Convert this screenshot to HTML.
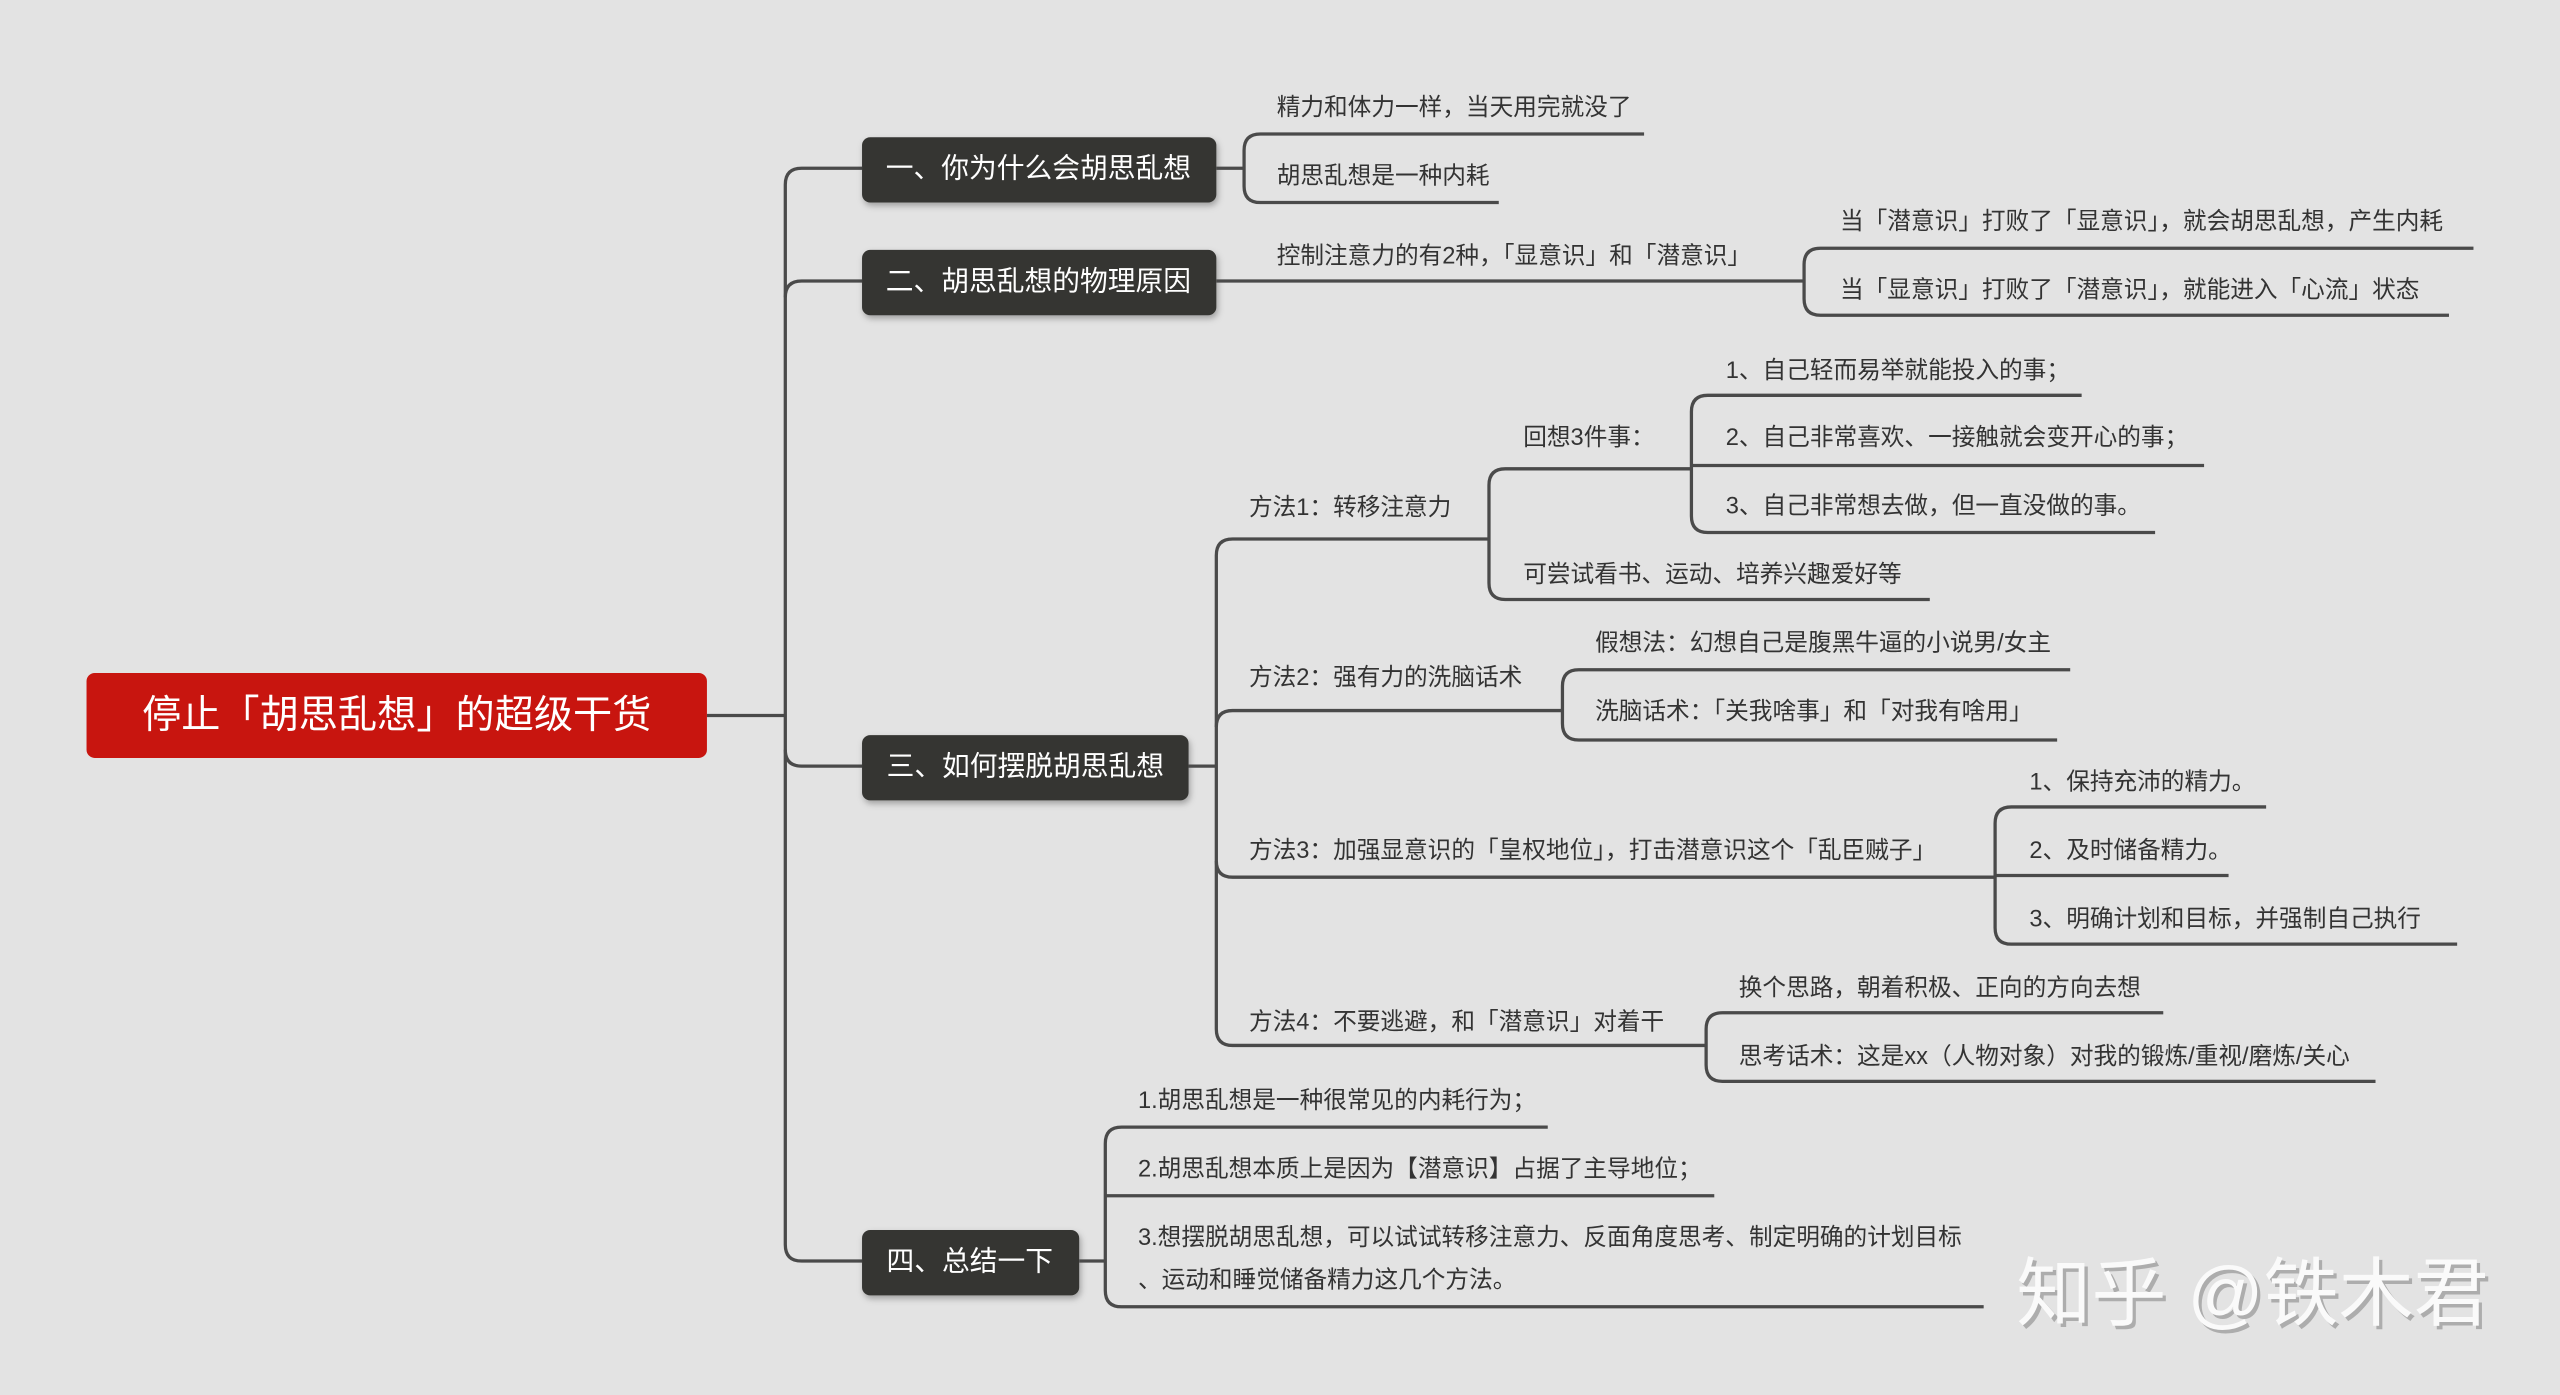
<!DOCTYPE html>
<html><head><meta charset="utf-8">
<style>
html,body{margin:0;padding:0;background:#e3e3e3;}
svg{display:block;}
text{font-family:"Liberation Sans","Noto Sans CJK SC",sans-serif;dominant-baseline:central;}
.t{font-size:14.5px;fill:#333;}
.m{font-size:17px;fill:#fff;font-weight:normal;}
.l{stroke:#4a4a4a;stroke-width:2;fill:none;stroke-linejoin:round;}
</style></head><body>
<svg width="2560" height="1395" viewBox="0 0 1568 854" preserveAspectRatio="none" xmlns="http://www.w3.org/2000/svg">
<rect width="1568" height="854" fill="#e3e3e3"/>
<defs><filter id="sh" x="-10%" y="-20%" width="120%" height="150%"><feDropShadow dx="1" dy="2" stdDeviation="2" flood-color="#000" flood-opacity="0.3"/></filter></defs>

<path class="l" d="M433 438 H481"/>
<path class="l" d="M528 103 H491 Q481 103 481 113 V762 Q481 772 491 772 H528"/>
<path class="l" d="M481 182 Q481 172 491 172 H528"/>
<path class="l" d="M481 459 Q481 469 491 469 H528"/>

<rect x="53" y="412" width="380" height="52" rx="5" fill="#c8150f"/>
<text x="243" y="438" text-anchor="middle" style="font-size:24px;fill:#fff">停止「胡思乱想」的超级干货</text>

<rect x="528" y="84" width="217" height="40" rx="5" fill="#353531" filter="url(#sh)"/>
<text class="m" x="636" y="103" text-anchor="middle">一、你为什么会胡思乱想</text>
<rect x="528" y="153" width="217" height="40" rx="5" fill="#353531" filter="url(#sh)"/>
<text class="m" x="636" y="172" text-anchor="middle">二、胡思乱想的物理原因</text>
<rect x="528" y="450" width="200" height="40" rx="5" fill="#353531" filter="url(#sh)"/>
<text class="m" x="628" y="469" text-anchor="middle">三、如何摆脱胡思乱想</text>
<rect x="528" y="753" width="133" height="40" rx="5" fill="#353531" filter="url(#sh)"/>
<text class="m" x="594" y="772" text-anchor="middle">四、总结一下</text>

<path class="l" d="M745 103 H762"/>
<path class="l" d="M1007 82 H772 Q762 82 762 92 V114 Q762 124 772 124 H918"/>
<text class="t" x="782" y="66">精力和体力一样，当天用完就没了</text>
<text class="t" x="782" y="108">胡思乱想是一种内耗</text>

<path class="l" d="M745 172 H1105"/>
<text class="t" x="782" y="157">控制注意力的有2种，「显意识」和「潜意识」</text>
<path class="l" d="M1515 152 H1115 Q1105 152 1105 162 V183 Q1105 193 1115 193 H1500"/>
<text class="t" x="1127" y="136">当「潜意识」打败了「显意识」，就会胡思乱想，产生内耗</text>
<text class="t" x="1127" y="178">当「显意识」打败了「潜意识」，就能进入「心流」状态</text>

<path class="l" d="M728 469 H745"/>
<path class="l" d="M912 330 H755 Q745 330 745 340 V630 Q745 640 755 640 H1045"/>
<path class="l" d="M745 445 Q745 435 755 435 H957"/>
<path class="l" d="M745 527 Q745 537 755 537 H1222"/>
<text class="t" x="765" y="311">方法1：转移注意力</text>
<text class="t" x="765" y="415">方法2：强有力的洗脑话术</text>
<text class="t" x="765" y="521">方法3：加强显意识的「皇权地位」，打击潜意识这个「乱臣贼子」</text>
<text class="t" x="765" y="626">方法4：不要逃避，和「潜意识」对着干</text>

<path class="l" d="M1036 287 H922 Q912 287 912 297 V357 Q912 367 922 367 H1182"/>
<text class="t" x="933" y="268">回想3件事：</text>
<text class="t" x="933" y="352">可尝试看书、运动、培养兴趣爱好等</text>
<path class="l" d="M1275 242 H1046 Q1036 242 1036 252 V316 Q1036 326 1046 326 H1320"/>
<path class="l" d="M1036 285 H1350"/>
<text class="t" x="1057" y="227">1、自己轻而易举就能投入的事；</text>
<text class="t" x="1057" y="268">2、自己非常喜欢、一接触就会变开心的事；</text>
<text class="t" x="1057" y="310">3、自己非常想去做，但一直没做的事。</text>

<path class="l" d="M1268 410 H967 Q957 410 957 420 V443 Q957 453 967 453 H1260"/>
<text class="t" x="977" y="394">假想法：幻想自己是腹黑牛逼的小说男/女主</text>
<text class="t" x="977" y="436">洗脑话术：「关我啥事」和「对我有啥用」</text>

<path class="l" d="M1388 494 H1232 Q1222 494 1222 504 V568 Q1222 578 1232 578 H1505"/>
<path class="l" d="M1222 536 H1365"/>
<text class="t" x="1243" y="479">1、保持充沛的精力。</text>
<text class="t" x="1243" y="521">2、及时储备精力。</text>
<text class="t" x="1243" y="563">3、明确计划和目标，并强制自己执行</text>

<path class="l" d="M1325 620 H1055 Q1045 620 1045 630 V652 Q1045 662 1055 662 H1455"/>
<text class="t" x="1065" y="605">换个思路，朝着积极、正向的方向去想</text>
<text class="t" x="1065" y="647">思考话术：这是xx（人物对象）对我的锻炼/重视/磨炼/关心</text>

<path class="l" d="M661 772 H677"/>
<path class="l" d="M948 690 H687 Q677 690 677 700 V790 Q677 800 687 800 H1215"/>
<path class="l" d="M677 732 H1050"/>
<text class="t" x="697" y="674">1.胡思乱想是一种很常见的内耗行为；</text>
<text class="t" x="697" y="716">2.胡思乱想本质上是因为【潜意识】占据了主导地位；</text>
<text class="t" x="697" y="758">3.想摆脱胡思乱想，可以试试转移注意力、反面角度思考、制定明确的计划目标</text>
<text class="t" x="697" y="784">、运动和睡觉储备精力这几个方法。</text>

<text x="1237" y="794" style="font-size:46px;fill:#8a8a8a;opacity:0.6">知乎 @铁木君</text>
<text x="1235" y="792" style="font-size:46px;fill:#fafafa">知乎 @铁木君</text>
</svg>
</body></html>
